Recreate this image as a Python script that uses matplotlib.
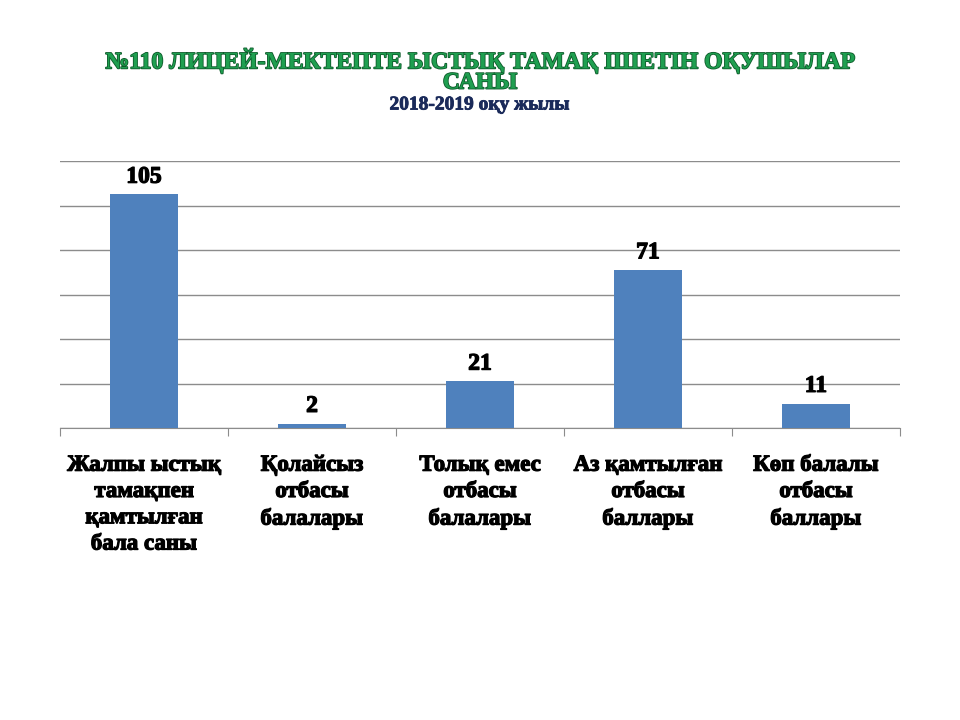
import matplotlib
matplotlib.use("Agg")
import matplotlib.pyplot as plt
import matplotlib.patheffects as pe

# Деректер
categories = [
    "Жалпы ыстық\nтамақпен\nқамтылған\nбала саны",
    "Қолайсыз\nотбасы\nбалалары",
    "Толық емес\nотбасы\nбалалары",
    "Аз қамтылған\nотбасы\nбаллары",
    "Көп балалы\nотбасы\nбаллары",
]
values = [105, 2, 21, 71, 11]

title = "№110 ЛИЦЕЙ-МЕКТЕПТЕ ЫСТЫҚ ТАМАҚ ІШЕТІН ОҚУШЫЛАР\nСАНЫ"
subtitle = "2018-2019 оқу жылы"

plt.rcParams["font.family"] = ["Liberation Serif", "DejaVu Serif"]

fig = plt.figure(figsize=(9.6, 7.2), dpi=100)
ax = fig.add_axes([60 / 960, 1 - 428 / 720, 840 / 960, 267 / 720])

x = list(range(len(values)))
bars = ax.bar(x, values, width=0.4, color="#4F81BD", zorder=3)
ax.set_xlim(-0.5, len(values) - 0.5)
ax.set_ylim(0, 120)
ax.set_yticks(range(0, 121, 20))
ax.yaxis.grid(True, color="#8c8c8c", linewidth=1, zorder=0)
ax.tick_params(axis="y", length=0, labelleft=False)

for s in ["top", "right", "left"]:
    ax.spines[s].set_visible(False)
ax.spines["bottom"].set_color("#8c8c8c")

# категория шекараларындағы белгілер
ax.set_xticks([i - 0.5 for i in range(len(values) + 1)])
ax.set_xticklabels([])
ax.tick_params(axis="x", direction="out", length=6, color="#8c8c8c")

bold = [pe.withStroke(linewidth=0.9, foreground="black")]

for i, lab in enumerate(categories):
    ax.text(i, -0.1, lab, transform=ax.get_xaxis_transform(), ha="center", va="top",
            fontsize=16.5, fontweight="bold", linespacing=1.33, path_effects=bold)

for b, v in zip(bars, values):
    ax.text(b.get_x() + b.get_width() / 2, v + 3, str(v), ha="center", va="bottom",
            fontsize=17, fontweight="bold", path_effects=bold)

fig.text(0.5, 1 - 71 / 720, title, ha="center", va="center", fontsize=17, fontweight="bold",
         color="#1f9f50", linespacing=0.95,
         path_effects=[pe.withStroke(linewidth=1.2, foreground="#0d5a2a")])
fig.text(0.5, 1 - 105 / 720, subtitle, ha="center", va="center", fontsize=14, fontweight="bold",
         color="#1a2a5a", path_effects=[pe.withStroke(linewidth=0.6, foreground="#1a2a5a")])

fig.savefig("out.png", dpi=100)
